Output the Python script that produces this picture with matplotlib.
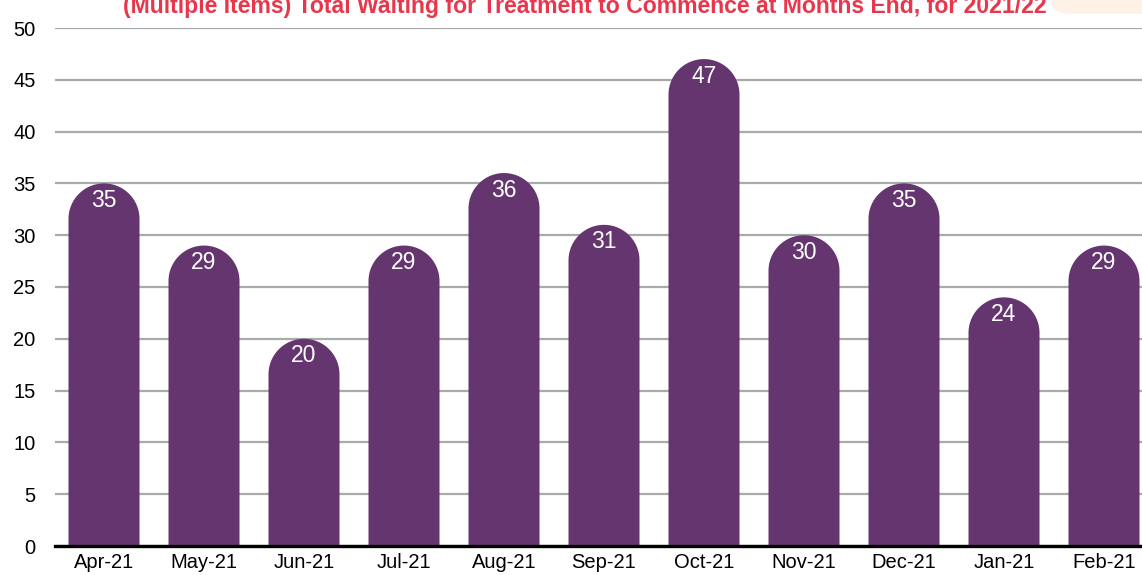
import matplotlib
matplotlib.use("Agg")
import matplotlib.pyplot as plt
from matplotlib.patches import Polygon, FancyBboxPatch
import numpy as np

months = ["Apr-21", "May-21", "Jun-21", "Jul-21", "Aug-21", "Sep-21",
          "Oct-21", "Nov-21", "Dec-21", "Jan-21", "Feb-21"]
values = [35, 29, 20, 29, 36, 31, 47, 30, 35, 24, 29]
title = "(Multiple Items) Total Waiting for Treatment to Commence at Months End, for 2021/22"

W, H = 1142, 575
fig = plt.figure(figsize=(W / 100, H / 100), dpi=100)
plt.rcParams['font.family'] = ['Liberation Sans', 'DejaVu Sans']

ax_l, ax_r, ax_b, ax_t = 55, 1142, 546, 28
ax = fig.add_axes([ax_l / W, (H - ax_b) / H, (ax_r - ax_l) / W, (ax_b - ax_t) / H])
xmin, xmax = -0.49, 10.38
ax.set_xlim(xmin, xmax)
ax.set_ylim(0, 50)

bar_color = "#65356F"
bw = 0.71
px_per_x = (ax_r - ax_l) / (xmax - xmin)
px_per_y = (ax_b - ax_t) / 50.0
rx = bw / 2
ry = rx * px_per_x / px_per_y

t = np.linspace(0, np.pi, 60)
for i, v in enumerate(values):
    top = v - ry
    xs = [i - rx] + list(i + rx * np.cos(t[::-1])) + [i + rx]
    ys = [0] + list(top + ry * np.sin(t[::-1])) + [0]
    poly = Polygon(np.column_stack([xs, ys]), closed=True, facecolor=bar_color,
                   edgecolor='none', zorder=3)
    ax.add_patch(poly)
    ax.text(i, v - 1.65, str(v), ha='center', va='center', color='white',
            fontsize=16.5, zorder=4)

ax.set_yticks(range(0, 51, 5))
ax.set_xticks(range(len(months)))
ax.set_xticklabels(months)
ax.tick_params(axis='y', length=0, pad=14, labelsize=14.5)
ax.tick_params(axis='x', length=0, pad=5, labelsize=14.5)
for s in ax.spines.values():
    s.set_visible(False)
ax.yaxis.grid(True, color='#A9ABAA', linewidth=1.6, zorder=0)
ax.set_axisbelow(True)
ax.axhline(0, color='black', linewidth=2.4, zorder=5, clip_on=False)

# peach box top right
fig.patches.append(FancyBboxPatch((1052 / W, (H - 14) / H), 200 / W, 40 / H,
                                  boxstyle="round,pad=0,rounding_size=0.02",
                                  transform=fig.transFigure, facecolor='#FDF2E5',
                                  edgecolor='none', zorder=0))

fig.text(585 / W, 1 - 13 / H, title, ha='center', va='baseline', color='#E8374C',
         fontsize=16.6, fontweight='bold')

fig.savefig("out.png", dpi=100)
